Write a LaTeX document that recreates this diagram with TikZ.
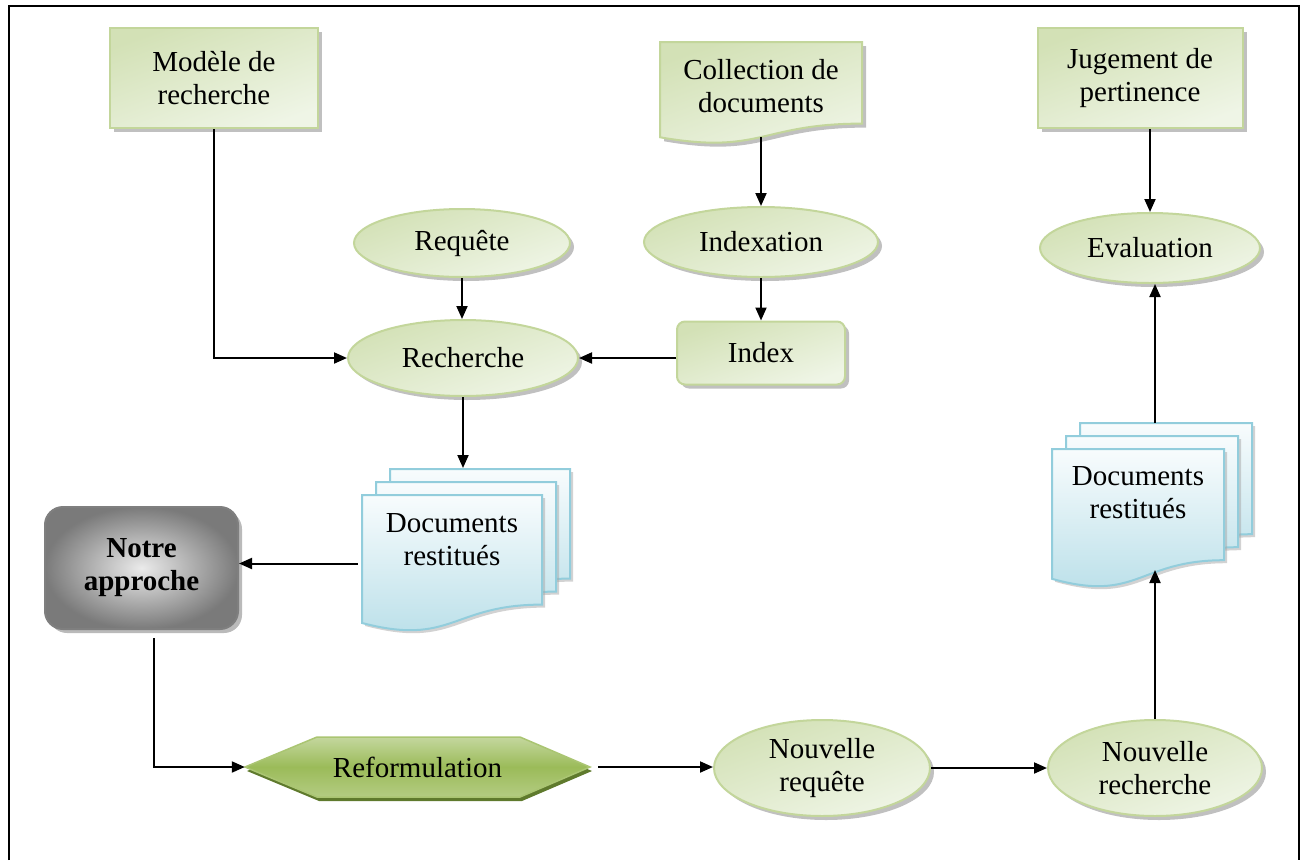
\documentclass[tikz,border=0pt]{standalone}
\usepackage{fontspec}
\setmainfont{Liberation Serif}
\usetikzlibrary{arrows.meta,shapes.geometric,shadows,calc}

\definecolor{gborder}{HTML}{C3D69B}
\definecolor{gdark}{HTML}{D3E1B6}
\definecolor{glight}{HTML}{EFF5E6}
\definecolor{bborder}{HTML}{92CDDC}
\definecolor{btop}{HTML}{F8FCFD}
\definecolor{bbot}{HTML}{B7DEE8}
\definecolor{hexmid}{HTML}{9BBB59}
\definecolor{hexlight}{HTML}{C4D79E}
\definecolor{hexshadow}{HTML}{5F7A2D}
\definecolor{greyedge}{HTML}{7F7F7F}

% one page of a document symbol, wavy bottom edge
\newcommand\docpage[5]{%
  \path[#1] (#2,#3) -- (#4,#3) -- (#4,{#3+0.80*(#5-#3)})
    .. controls ({(#2+#4)/2},{#3+0.80*(#5-#3)}) and ({(#2+#4)/2},{#3+1.107*(#5-#3)})
    .. (#2,{#3+0.934*(#5-#3)}) -- cycle;}
% two centred lines with a given height above / depth below the first baseline
\newcommand\uptext[3]{\raisebox{0pt}[#1][#2]{\begin{tabular}[t]{@{}c@{}}#3\end{tabular}}}

\begin{document}
\begin{tikzpicture}[x=1pt,y=-1pt,
  every node/.style={font=\fontsize{29}{33}\selectfont, inner sep=0pt, align=center, text=black},
  shade/.style={drop shadow={shadow xshift=4pt, shadow yshift=-4pt, fill=black!45, opacity=0.55}},
  greenbox/.style={shade, draw=gborder, line width=2pt, left color=gdark, right color=glight,
    shading angle=20, rectangle},
  greenell/.style={shade, draw=gborder, line width=2pt, left color=gdark, right color=glight,
    shading angle=20, ellipse},
  greendoc/.style={shade, draw=gborder, line width=2pt, left color=gdark, right color=glight,
    shading angle=20},
  bluepage/.style={drop shadow={shadow xshift=3pt, shadow yshift=-3pt, fill=black!35, opacity=0.5},
    draw=bborder, line width=2pt, top color=btop, bottom color=bbot},
  greybox/.style={drop shadow={shadow xshift=4pt, shadow yshift=-4pt, fill=black!45, opacity=0.6},
    draw=greyedge, line width=2pt, inner color=black!8, outer color=black!52,
    rounded corners=18pt, rectangle},
  arr/.style={line width=2pt, -{Triangle[length=13pt,width=11pt]}}
]
\useasboundingbox (0,0) rectangle (1306,860);
% outer frame
\draw[line width=2pt] (9,860) -- (9,6) -- (1299,6) -- (1299,860);

% top row
\node[greenbox, minimum width=208pt, minimum height=100pt] (model) at (214,78) {Modèle de\\recherche};
\docpage{greendoc}{660}{42}{862}{144}
\node[minimum width=202pt, minimum height=102pt] (coll) at (761,93) {\uptext{37.5pt}{64.5pt}{Collection de\\documents}};
\node[greenbox, minimum width=205pt, minimum height=100pt] (jug) at (1140,78) {Jugement de\\pertinence};

% second row
\node[greenell, minimum width=216pt, minimum height=68pt] (req) at (462,243) {Requête};
\node[greenell, minimum width=234pt, minimum height=70pt] (idx) at (761,242) {Indexation};
\node[greenell, minimum width=220pt, minimum height=70pt] (eval) at (1150,248) {Evaluation};

% third row
\node[greenell, minimum width=230pt, minimum height=76pt] (rech) at (463,358) {Recherche};
\node[greenbox, rounded corners=8pt, minimum width=168pt, minimum height=63pt] (index) at (761,353) {Index};

% retrieved documents (left)
\docpage{bluepage}{390}{469}{570}{606}
\docpage{bluepage}{376}{482}{556}{619}
\docpage{bluepage}{362}{495}{542}{632}
\node[minimum width=180pt, minimum height=137pt] (docL) at (452,563.5) {\uptext{37.5pt}{99.5pt}{Documents\\restitués}};
\coordinate (docLtop) at (463,468);

% retrieved documents (right)
\docpage{bluepage}{1080}{423}{1252}{562}
\docpage{bluepage}{1066}{436}{1238}{575}
\docpage{bluepage}{1052}{449}{1224}{588}
\node[minimum width=172pt, minimum height=139pt] (docR) at (1138,518.5) {\uptext{36.5pt}{102.5pt}{Documents\\restitués}};
\coordinate (docRtop) at (1155,423);
\coordinate (docRwave) at (1155,570);

% our approach
\node[greybox, minimum width=193pt, minimum height=122pt] (notre) at (141.5,568) {\bfseries Notre\\\bfseries approche};

% reformulation hexagon
\path[fill=hexshadow] (247,771) -- (319,741) -- (522,741) -- (592,771) -- (522,801) -- (319,801) -- cycle;
\path[draw=hexmid!85!white, line width=1.5pt, top color=hexlight, bottom color=hexlight!60!hexmid, middle color=hexmid]
  (245,767) -- (317,737) -- (520,737) -- (590,767) -- (520,797) -- (317,797) -- cycle;
\node[minimum width=345pt, minimum height=60pt] (reform) at (417.5,767) {Reformulation};

% new query and new search
\node[greenell, minimum width=216pt, minimum height=96pt] (nreq) at (822,768) {Nouvelle\\requête};
\node[greenell, minimum width=214pt, minimum height=96pt] (nrech) at (1155,768) {Nouvelle\\recherche};

% connectors
\draw[arr] (model.south) |- (rech.west);
\draw[arr] (req.south) -- (req.south |- rech.north);
\draw[arr] ([yshift=7pt]coll.south) -- (idx.north);
\draw[arr] (idx.south) -- (index.north);
\draw[arr] (index.west |- rech.east) -- (rech.east);
\draw[arr] (rech.south) -- (docLtop);
\draw[arr] ([xshift=-4pt]docL.west) -- (docL.west -| notre.east);
\draw[arr] ([xshift=12pt,yshift=-8pt]notre.south) |- (reform.west);
\draw[arr] ([xshift=8pt]reform.east) -- (reform.east -| nreq.west);
\draw[arr] (nreq.east) -- (nrech.west);
\draw[arr] (nrech.north) -- (docRwave);
\draw[arr] (docRtop) -- (docRtop |- eval.south);
\draw[arr] (eval.north |- jug.south) -- (eval.north);
\end{tikzpicture}
\end{document}
